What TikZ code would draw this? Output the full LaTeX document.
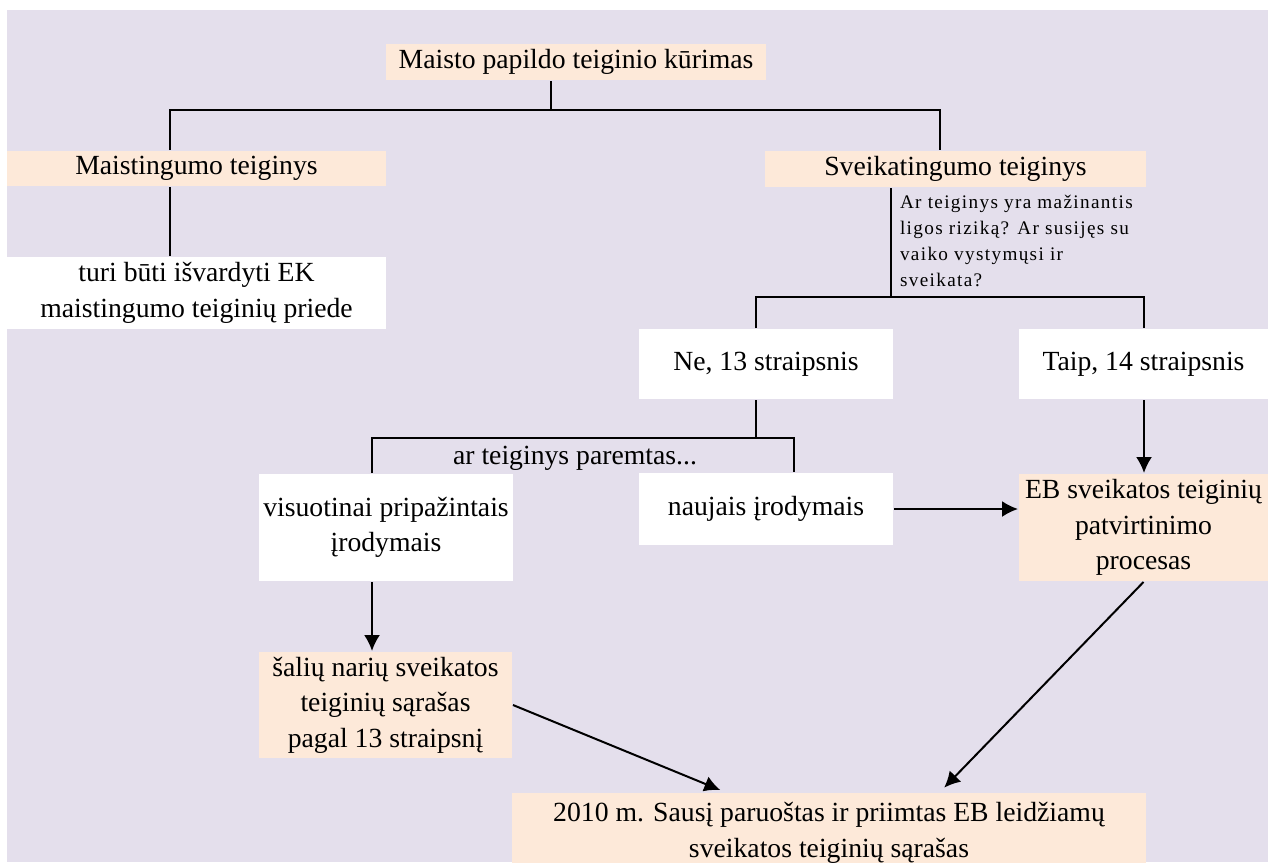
\documentclass[tikz,border=0pt]{standalone}
\usepackage{fontspec}
\setmainfont{Liberation Serif}
\newfontfamily\klausfont[LetterSpace=7]{Liberation Serif}
\usepackage{tikz}
\usetikzlibrary{arrows.meta,calc}
\definecolor{lavender}{HTML}{E4DFEC}
\definecolor{peach}{HTML}{FDE9D9}

\begin{document}
\begin{tikzpicture}[x=0.5pt, y=-0.5pt, >={Latex[length=8pt,width=8pt]}, line width=1pt,
  every node/.style={font=\fontsize{13.85}{17.75}\selectfont, inner sep=0pt, align=center},
  peachbox/.style={rectangle, fill=peach},
  whitebox/.style={rectangle, fill=white}]
\useasboundingbox (0,0) rectangle (1268,862);
\fill[lavender] (7,10) rectangle (1268,862);

\node[peachbox, minimum width=190pt, minimum height=18pt] (top) at (576,62) {Maisto papildo teiginio kūrimas};
\node[peachbox, minimum width=189.5pt, minimum height=17.5pt] (maist) at (196.5,168.5) {Maistingumo teiginys};
\node[whitebox, minimum width=189.5pt, minimum height=36pt] (turi) at (196.5,293) {turi būti išvardyti EK\\maistingumo teiginių priede};
\node[peachbox, minimum width=190.5pt, minimum height=18pt] (sveik) at (955.5,169) {Sveikatingumo teiginys};
\node[anchor=north west, align=left, font=\klausfont\fontsize{9.6}{13}\selectfont] (klaus) at (899,194)
  {Ar teiginys yra mažinantis\\ligos riziką? Ar susijęs su\\vaiko vystymųsi ir\\sveikata?};
\node[whitebox, minimum width=127pt, minimum height=35pt] (ne) at (766,364) {Ne, 13 straipsnis};
\node[whitebox, minimum width=124.5pt, minimum height=35pt] (taip) at (1143.5,364) {Taip, 14 straipsnis};
\node (parem) at (575,458) {ar teiginys paremtas...};
\node[whitebox, minimum width=127pt, minimum height=53.5pt] (visuot) at (386,527.5) {visuotinai pripažintais\\įrodymais};
\node[whitebox, minimum width=127pt, minimum height=36pt] (naujais) at (766,509) {naujais įrodymais};
\node[peachbox, minimum width=124.5pt, minimum height=53.5pt] (eb) at (1143.5,527.5) {EB sveikatos teiginių\\patvirtinimo\\procesas};
\node[peachbox, minimum width=126.5pt, minimum height=53pt] (salys) at (385.5,705) {šalių narių sveikatos\\teiginių sąrašas\\pagal 13 straipsnį};
\node[peachbox, minimum width=317pt, minimum height=40pt] (final) at (829,833) {2010 m. Sausį paruoštas ir priimtas EB leidžiamų\\sveikatos teiginių sąrašas};

% medzio sakos
\coordinate (jTop) at (551,110);
\coordinate (jMaist) at (170,110);
\coordinate (jSveik) at (940,110);
\draw (top.south -| jTop) -- (jTop);
\draw (maist.north -| jMaist) -- (jMaist) -- (jSveik) -- (sveik.north -| jSveik);
\draw (maist.south -| jMaist) -- (turi.north -| jMaist);

\coordinate (jKlaus) at (891,297);
\coordinate (jNe) at (756,297);
\coordinate (jTaip) at (1144,297);
\draw (sveik.south -| jKlaus) -- (jKlaus);
\draw (ne.north -| jNe) -- (jNe) -- (jTaip) -- (taip.north -| jTaip);

\coordinate (jParem) at (756,438);
\coordinate (jVis) at (372,438);
\coordinate (jNauj) at (794,438);
\draw (ne.south -| jParem) -- (jParem);
\draw (visuot.north -| jVis) -- (jVis) -- (jNauj) -- (naujais.north -| jNauj);

% rodykles
\draw[->] (naujais.east) -- (naujais.east -| eb.west);
\draw[->] (taip.south -| jTaip) -- (eb.north -| jTaip);
\draw[->] (visuot.south -| jVis) -- (salys.north -| jVis);
\draw[->, shorten >=2.5pt] (salys.east) -- ($(final.north west)+(214,0)$);
\draw[->, shorten >=3pt] (eb.south) -- ($(final.north west)+(429,0)$);
\end{tikzpicture}
\end{document}
